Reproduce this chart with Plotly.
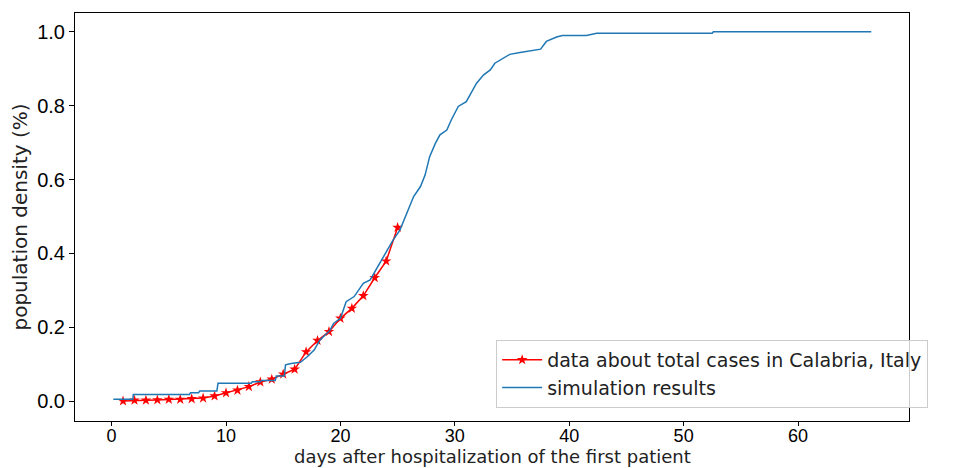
import plotly.graph_objects as go

# Observed data (Calabria, Italy)
data_days = list(range(1, 26))
data_vals = [0.000, 0.002, 0.002, 0.003, 0.0045, 0.0045, 0.006, 0.008, 0.0135, 0.022,
             0.029, 0.039, 0.0515, 0.059, 0.073, 0.086, 0.133, 0.164, 0.188, 0.224,
             0.251, 0.285, 0.334, 0.379, 0.470]

# Simulation results
sim_days = [0.15, 1.85, 1.9, 6.8, 6.9, 7.6, 7.7, 9.2, 9.3, 12.2, 12.3, 13.0, 13.1, 14.3, 14.4,
            15.1, 15.2, 15.7, 16.5, 17.1, 17.7, 18.2, 19.1, 19.4, 20.0, 20.5, 21.2, 22.0,
            22.6, 23.0, 23.6, 24.0, 24.6, 25.2, 25.8, 26.4, 27.0, 27.4, 27.8, 28.3, 28.7,
            29.3, 29.7, 30.3, 31.0, 31.5, 31.9, 32.5, 33.1, 33.5, 34.1, 34.8, 35.7, 36.9,
            37.5, 38.0, 38.9, 39.4, 41.5, 42.4, 52.5, 52.6, 66.4]
sim_vals = [0.005, 0.005, 0.018, 0.018, 0.0225, 0.0225, 0.027, 0.027, 0.048, 0.048, 0.052,
            0.052, 0.056, 0.056, 0.068, 0.068, 0.098, 0.102, 0.105, 0.120, 0.138, 0.165,
            0.192, 0.210, 0.224, 0.269, 0.283, 0.319, 0.328, 0.350, 0.382, 0.405, 0.436,
            0.463, 0.509, 0.554, 0.581, 0.612, 0.662, 0.698, 0.721, 0.734, 0.762, 0.798,
            0.811, 0.838, 0.861, 0.883, 0.897, 0.915, 0.926, 0.939, 0.944, 0.949, 0.953,
            0.974, 0.986, 0.990, 0.990, 0.996, 0.996, 1.000, 1.000]

x_ticks = [0, 10, 20, 30, 40, 50, 60]
y_ticks = [0.0, 0.2, 0.4, 0.6, 0.8, 1.0]
x_title = "days after hospitalization of the first patient"
y_title = "population density (%)"

fig = go.Figure()
fig.add_trace(go.Scatter(
    x=data_days, y=data_vals, mode="lines+markers",
    name="data about total cases in Calabria, Italy",
    line=dict(color="red", width=1.5),
    marker=dict(symbol="star", size=8, color="red"),
))
fig.add_trace(go.Scatter(
    x=sim_days, y=sim_vals, mode="lines",
    name="simulation results",
    line=dict(color="#1f77b4", width=1.5),
))

tick_font = "Liberation Sans, Arial, sans-serif"
text_font = "DejaVu Sans, sans-serif"
fig.update_layout(
    width=965, height=468,
    margin=dict(l=75, r=56, t=13, b=47),
    paper_bgcolor="white", plot_bgcolor="white",
    font=dict(family=tick_font, color="black"),
    showlegend=True,
    legend=dict(
        x=0.505, y=0.032, xanchor="left", yanchor="bottom",
        bgcolor="rgba(255,255,255,0.8)", bordercolor="#cccccc", borderwidth=1,
        font=dict(size=19, family=text_font, color="#222222"),
        tracegroupgap=0, itemwidth=40,
    ),
    xaxis=dict(
        range=[-3.2, 69.7], tickvals=x_ticks, ticks="outside", ticklen=4,
        tickcolor="black", tickfont=dict(size=18, family=tick_font),
        ticklabelstandoff=-6,
        showgrid=False, zeroline=False, automargin=False,
        showline=True, linecolor="black", linewidth=1, mirror=True,
    ),
    yaxis=dict(
        range=[-0.054, 1.051], tickvals=y_ticks, tickformat=".1f", ticks="outside",
        ticklen=5, tickcolor="black", tickfont=dict(size=20, family=tick_font),
        showgrid=False, zeroline=False, automargin=False,
        showline=True, linecolor="black", linewidth=1, mirror=True,
        title=dict(text=y_title,
                   font=dict(size=20, family=text_font, color="#222222"), standoff=4),
    ),
)
fig.add_annotation(
    text=x_title, xref="paper", yref="paper", x=0.5, y=-47 / 408,
    xanchor="center", yanchor="bottom", showarrow=False, borderpad=0,
    font=dict(size=18, family=text_font, color="#222222"),
)

fig.write_html("out.html")
